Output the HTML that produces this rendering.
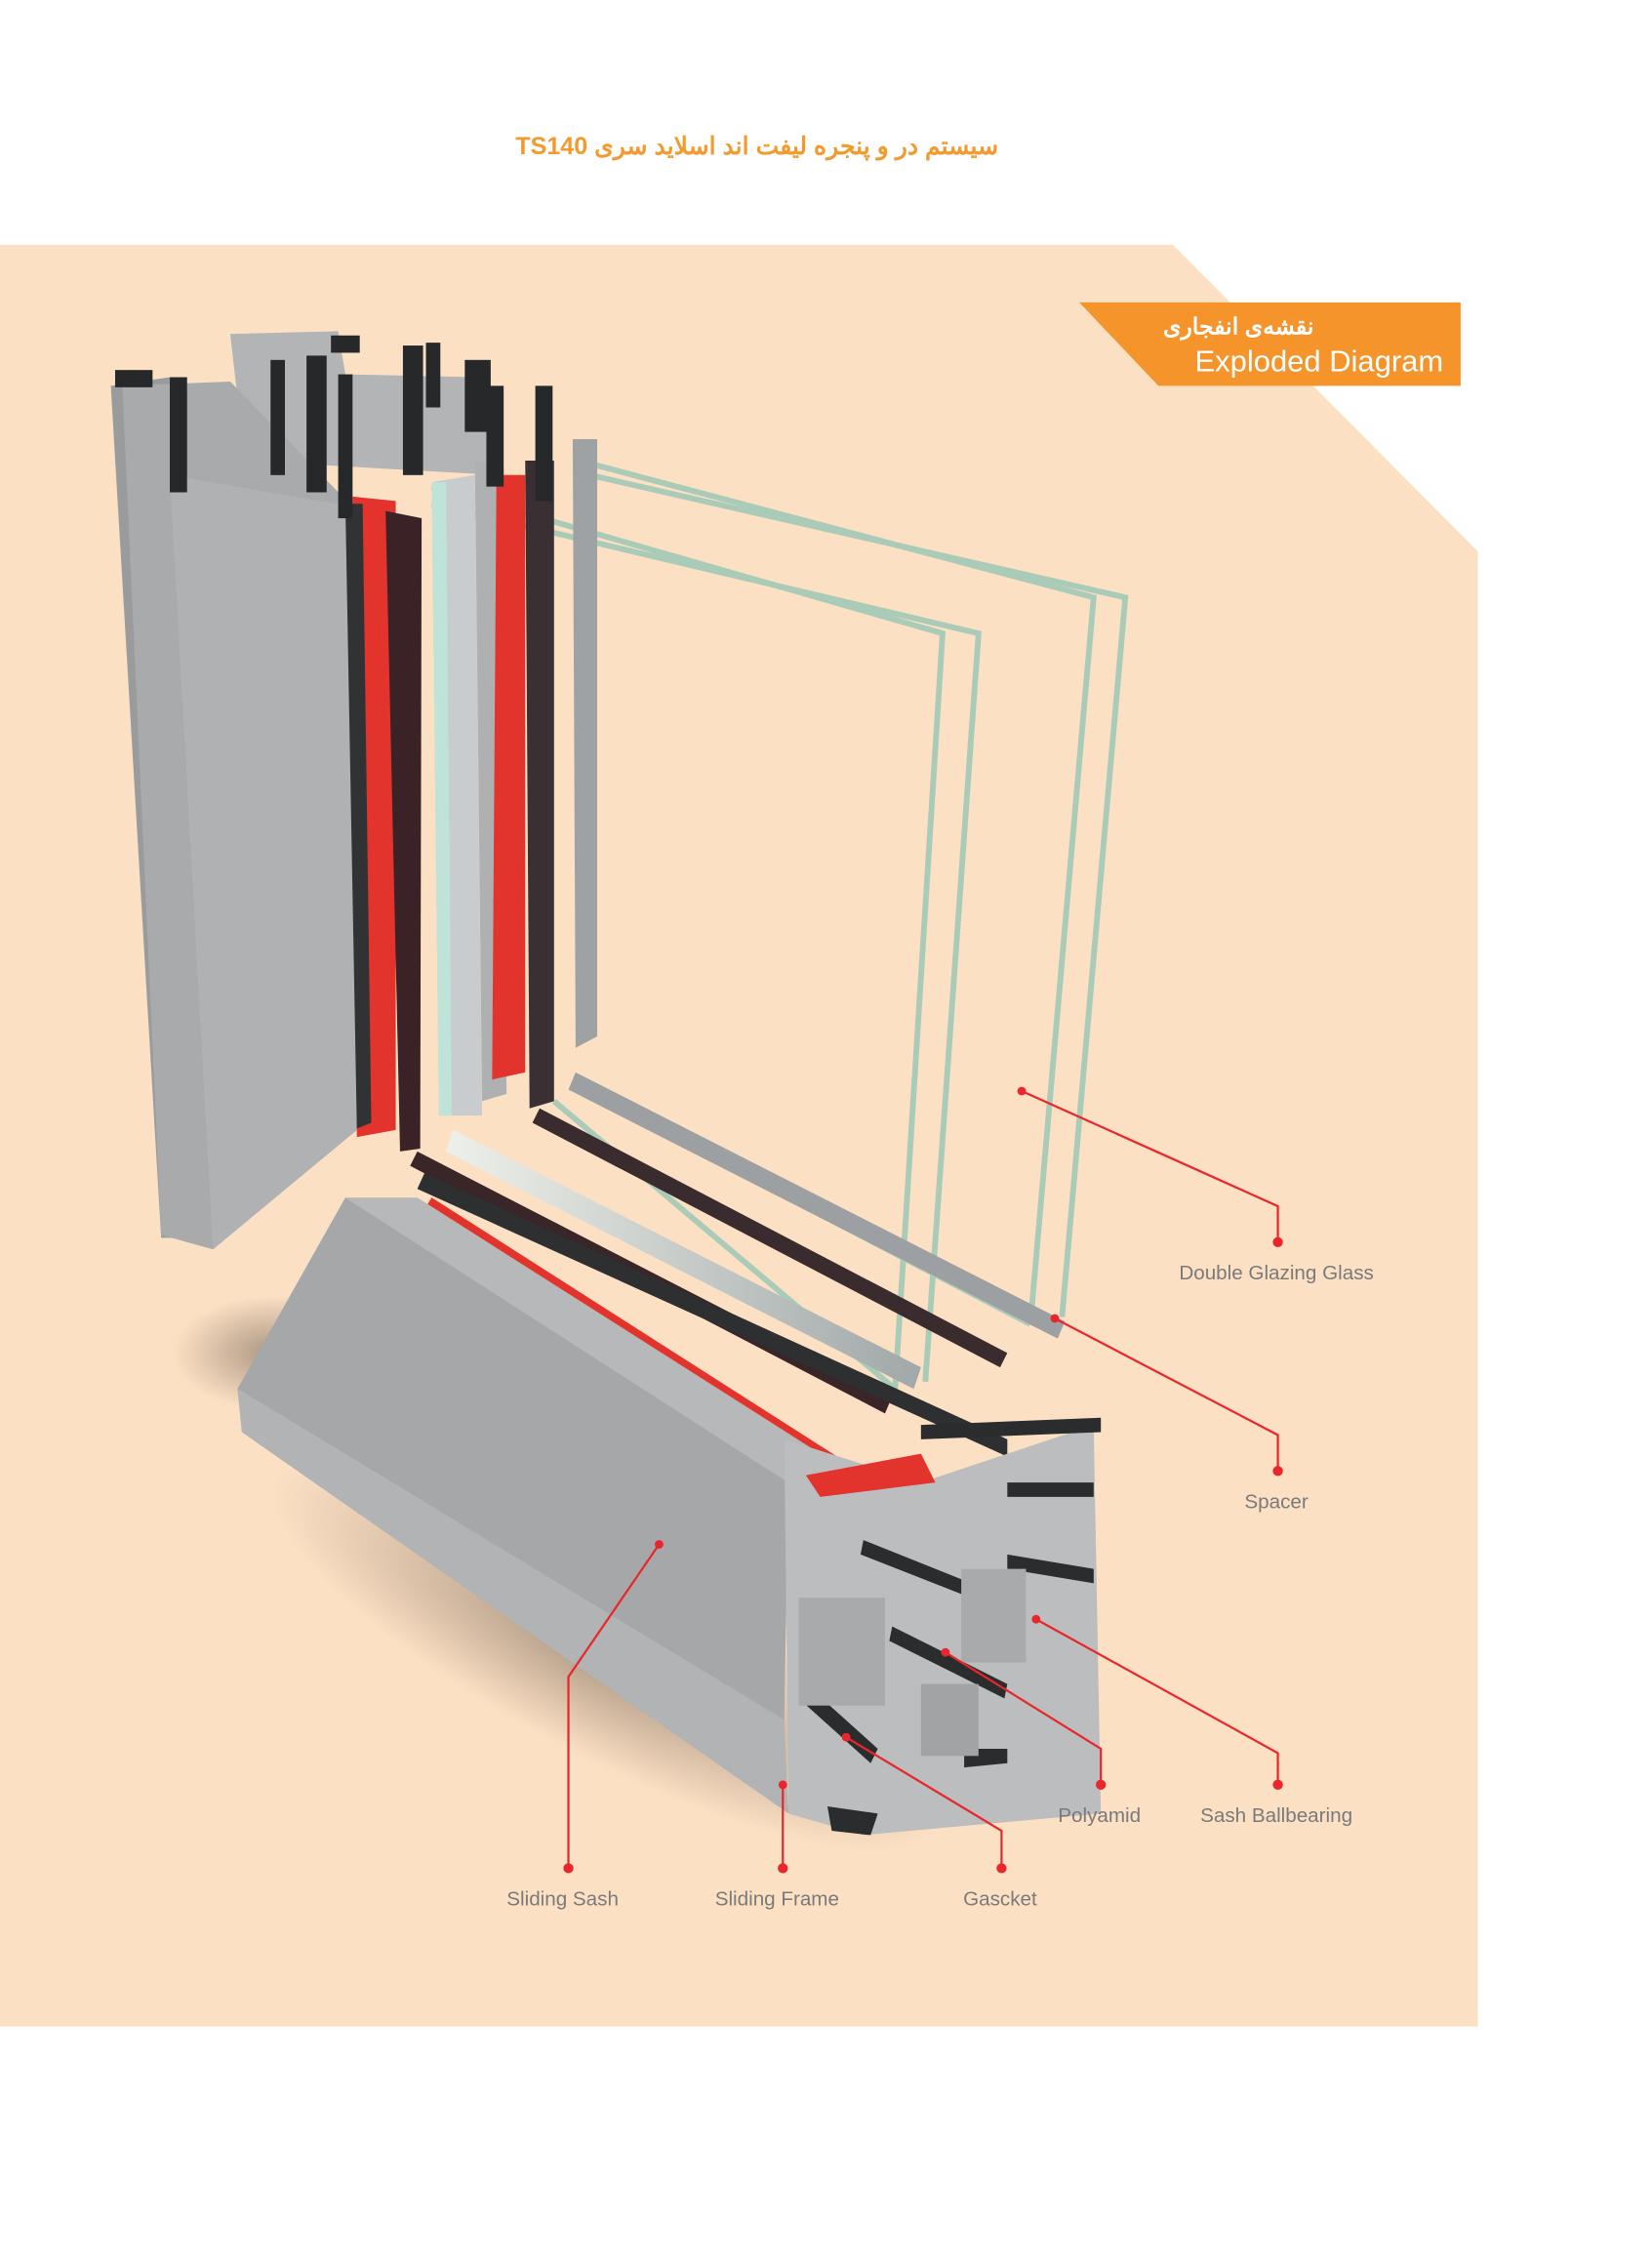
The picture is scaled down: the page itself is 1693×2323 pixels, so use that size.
<!DOCTYPE html>
<html><head><meta charset="utf-8"><style>
html,body{margin:0;padding:0;background:#fff}
svg{display:block}
</style></head><body>
<svg width="1693" height="2323" viewBox="0 0 1148 1575" xmlns="http://www.w3.org/2000/svg">
<defs>
<radialGradient id="sh" cx="0.5" cy="0.5" r="0.5"><stop offset="0" stop-color="#6a5a4c" stop-opacity="0.55"/><stop offset="1" stop-color="#6a5a4c" stop-opacity="0"/></radialGradient>
<linearGradient id="gl" x1="0" x2="1"><stop offset="0" stop-color="#eef0ea"/><stop offset="1" stop-color="#a0a8a8"/></linearGradient>
</defs>
<rect width="1148" height="1575" fill="#fff"/>
<polygon points="0,170 815,170 1027,383 1027,1408 0,1408" fill="#fce0c4"/>
<text x="526" y="107" text-anchor="middle" font-family="'Liberation Sans','Noto Sans CJK SC',sans-serif" font-size="17" font-weight="bold" fill="#f39a2e" direction="rtl">سیستم در و پنجره لیفت اند اسلاید سری TS140</text>
<polygon points="750,210 1015,210 1015,268 805,268" fill="#f5942b"/>
<text x="913" y="232" text-anchor="start" font-family="'Liberation Sans','Noto Sans CJK SC',sans-serif" font-size="16" font-weight="bold" fill="#fff" direction="rtl">نقشه‌ی انفجاری</text>
<text x="1003" y="258" text-anchor="end" font-family="'Liberation Sans',sans-serif" font-size="21" fill="#fff">Exploded Diagram</text>
<ellipse cx="190" cy="940" rx="70" ry="40" fill="url(#sh)"/>
<ellipse cx="420" cy="1150" rx="260" ry="70" fill="url(#sh)" transform="rotate(28 420 1150)"/>
<g fill="none" stroke="#a9cbb8" stroke-width="4">
<polyline points="300,338 655,440 622,965"/>
<polyline points="300,350 680,440 643,960"/>
<polyline points="410,322 760,415 716,920"/>
<polyline points="410,330 782,415 738,915"/>
<polyline points="400,755 716,920"/>
<polyline points="385,765 622,965"/>
</g>
<polygon points="160,232 235,230 240,260 330,262 345,330 170,320" fill="#b3b4b6"/>
<polygon points="77,268 118,262 122,860 112,860" fill="#9a9b9d"/>
<polygon points="85,268 160,265 245,352 248,785 148,868 112,858" fill="#a9aaac"/>
<polygon points="118,330 245,352 248,785 148,868" fill="#b0b1b3"/>
<polygon points="245,345 275,348 275,785 248,790" fill="#e2332c"/>
<polygon points="268,355 293,360 292,798 278,800" fill="#3a2226"/>
<polygon points="240,350 252,350 258,780 248,784" fill="#303234"/>
<polygon points="300,335 330,330 335,775 305,775" fill="#c8ccce"/>
<polygon points="300,335 310,335 314,775 305,775" fill="#bfe3d8"/>
<polygon points="330,320 350,325 352,760 335,765" fill="#aeb0b2"/>
<polygon points="345,330 365,330 365,745 342,750" fill="#e2332c"/>
<polygon points="365,320 385,320 385,765 368,770" fill="#3a2f33"/>
<polygon points="398,305 415,305 415,720 400,728" fill="#9fa2a4"/>
<g fill="#26282a">
<rect x="80" y="257" width="26" height="12"/>
<rect x="118" y="262" width="12" height="80"/>
<rect x="188" y="250" width="10" height="80"/>
<rect x="213" y="247" width="14" height="95"/>
<rect x="235" y="260" width="10" height="100"/>
<rect x="280" y="240" width="14" height="90"/>
<rect x="296" y="238" width="10" height="45"/>
<rect x="323" y="250" width="18" height="50"/>
<rect x="338" y="268" width="12" height="70"/>
<rect x="372" y="268" width="12" height="80"/>
<rect x="230" y="233" width="20" height="12"/>
</g>
<g>
<polygon points="400,745 740,918 735,930 395,757" fill="#9da0a3"/>
<polygon points="375,770 700,940 695,950 370,780" fill="#3a2c2e"/>
<polygon points="315,785 640,950 635,965 310,800" fill="url(#gl)"/>
<polygon points="290,800 620,970 615,982 285,810" fill="#3a2528"/>
<polygon points="295,815 700,1000 700,1012 290,826" fill="#2d2f31"/>
<polygon points="300,832 610,1030 605,1038 295,840" fill="#e2332c"/>
</g>
<polygon points="240,832 290,832 570,1010 548,1030" fill="#b7b8ba"/>
<polygon points="165,965 240,832 548,1030 545,1195" fill="#a6a7a9"/>
<polygon points="165,965 545,1195 548,1260 168,995" fill="#b2b3b5"/>
<polygon points="545,1000 640,1030 760,990 765,1260 600,1275 548,1260" fill="#bcbdbf"/>
<g fill="#2a2c2e">
<polygon points="640,990 765,985 765,995 640,1000"/>
<polygon points="600,1070 700,1110 700,1120 598,1080"/>
<polygon points="700,1030 760,1030 760,1040 700,1040"/>
<polygon points="700,1080 760,1090 760,1100 700,1090"/>
<polygon points="560,1170 610,1215 605,1225 555,1180"/>
<polygon points="620,1130 700,1170 698,1180 618,1140"/>
<polygon points="575,1255 610,1260 605,1275 578,1272"/>
<polygon points="670,1215 700,1215 700,1225 670,1228"/>
</g>
<polygon points="560,1025 640,1010 650,1030 570,1040" fill="#e2332c"/>
<rect x="555" y="1110" width="60" height="75" fill="#a9aaac"/>
<rect x="668" y="1090" width="45" height="65" fill="#a9aaac"/>
<rect x="640" y="1170" width="40" height="50" fill="#a2a3a5"/>
<g fill="none" stroke="#e8262b" stroke-width="1.5">
<polyline points="710,758 888,838 888,863"/>
<polyline points="733,916 888,997 888,1022"/>
<polyline points="720,1125 888,1218 888,1240"/>
<polyline points="657,1148 765,1215 765,1240"/>
<polyline points="588,1207 696,1272 696,1298"/>
<polyline points="544,1240 544,1298"/>
<polyline points="458,1073 395,1165 395,1298"/>
</g>
<g fill="#e8262b">
<circle cx="710" cy="758" r="3"/><circle cx="888" cy="863" r="3.5"/>
<circle cx="733" cy="916" r="3"/><circle cx="888" cy="1022" r="3.5"/>
<circle cx="720" cy="1125" r="3"/><circle cx="888" cy="1240" r="3.5"/>
<circle cx="657" cy="1148" r="3"/><circle cx="765" cy="1240" r="3.5"/>
<circle cx="588" cy="1207" r="3"/><circle cx="696" cy="1298" r="3.5"/>
<circle cx="544" cy="1240" r="3"/><circle cx="544" cy="1298" r="3.5"/>
<circle cx="458" cy="1073" r="3"/><circle cx="395" cy="1298" r="3.5"/>
</g>
<g font-family="'Liberation Sans',sans-serif" font-size="14" fill="#7a7a7a" text-anchor="middle">
<text x="887" y="889">Double Glazing Glass</text>
<text x="887" y="1048">Spacer</text>
<text x="887" y="1266">Sash Ballbearing</text>
<text x="764" y="1266">Polyamid</text>
<text x="695" y="1324">Gascket</text>
<text x="540" y="1324">Sliding Frame</text>
<text x="391" y="1324">Sliding Sash</text>
</g>
</svg>
</body></html>
